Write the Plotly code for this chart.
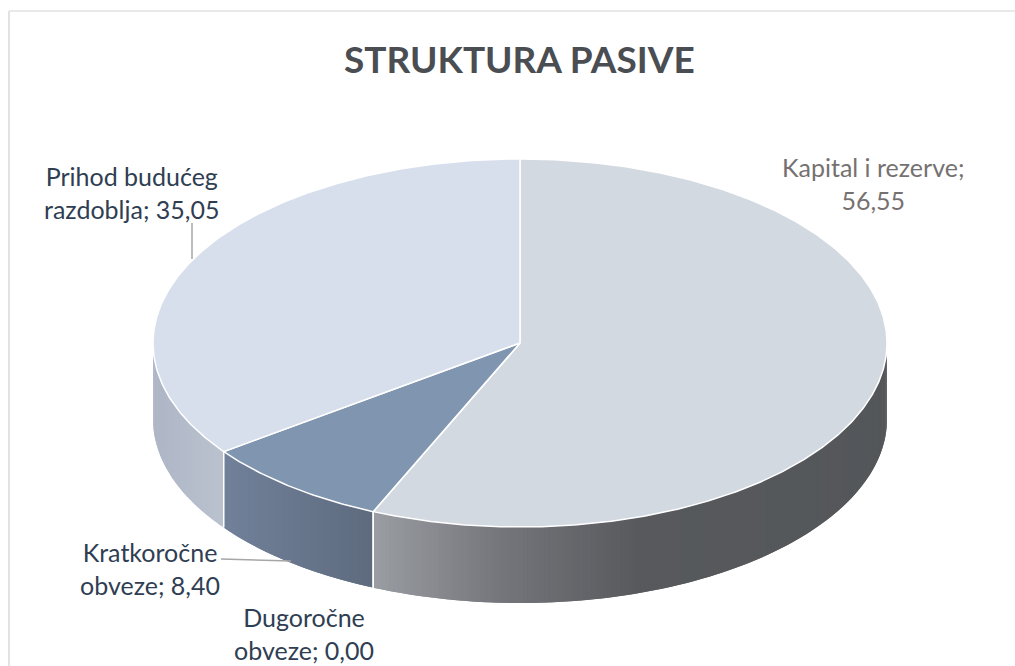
import math
import plotly.graph_objects as go

# --- data ---
categories = ["Kapital i rezerve", "Dugoročne obveze", "Kratkoročne obveze", "Prihod budućeg razdoblja"]
values = [56.55, 0.00, 8.40, 35.05]
value_labels = ["56,55", "0,00", "8,40", "35,05"]
title_text = "STRUKTURA PASIVE"

# --- style ---
top_colors = ["#D3D9E1", "#5B7FA8", "#8095AF", "#D8DFEC"]
# gradient stops per slice for the wall: (screen x, colour)
wall_stops = [
    [(373, "#9B9DA4"), (500, "#74767B"), (640, "#57595C"), (888, "#54575A")],
    [(373, "#5E6B7E"), (373, "#5E6B7E")],
    [(224, "#71819A"), (373, "#5E6B7E")],
    [(153, "#AEB6C6"), (224, "#BAC2CF")],
]
label_color = "#2F3E52"
CX, CY, RX, RY, DEPTH = 520, 343, 367, 184, 76
FONT = "Lato"


def pt(t_deg, dy=0):
    t = math.radians(t_deg)
    return CX + RX * math.sin(t), CY - RY * math.cos(t) + dy


def hex2rgb(c):
    return tuple(int(c[i:i + 2], 16) for i in (1, 3, 5))


def grad(stops, x):
    if x <= stops[0][0]:
        return stops[0][1]
    for (x0, c0), (x1, c1) in zip(stops, stops[1:]):
        if x <= x1 and x1 > x0:
            f = (x - x0) / (x1 - x0)
            a, b = hex2rgb(c0), hex2rgb(c1)
            return "rgb(%d,%d,%d)" % tuple(round(p + (q - p) * f) for p, q in zip(a, b))
    return stops[-1][1]


total = sum(values)
angles = [0]
for v in values:
    angles.append(angles[-1] + v / total * 360)

fig = go.Figure()


def poly(xs, ys, fill, line=None, width=0):
    fig.add_trace(go.Scatter(
        x=xs, y=ys, mode="lines", fill="toself", fillcolor=fill,
        line=dict(color=line or fill, width=width), hoverinfo="skip", showlegend=False))


# side walls (front half only, t in 90..270). Each strip reaches to the end of its
# slice and the next strip paints over it, so no seams show between strips.
for i, v in enumerate(values):
    a0, a1 = max(angles[i], 90), min(angles[i + 1], 270)
    if a1 <= a0:
        continue
    n = max(2, int((a1 - a0) * 1.5))
    for k in range(n):
        s0 = a0 + (a1 - a0) * k / n
        s1 = a0 + (a1 - a0) * (k + 1) / n
        s2 = min(a1, s1 + (a1 - a0) / n)
        mid = pt((s0 + s1) / 2)[0]
        top = [pt(s0), pt(s1), pt(s2)]
        bot = [pt(s2, DEPTH), pt(s1, DEPTH), pt(s0, DEPTH)]
        ring = top + bot + [top[0]]
        poly([p[0] for p in ring], [p[1] for p in ring], grad(wall_stops[i], mid))

# wall separators
for a in angles[1:-1]:
    if 90 < a < 270:
        x0, y0 = pt(a)
        x1, y1 = pt(a, DEPTH)
        fig.add_trace(go.Scatter(x=[x0, x1], y=[y0, y1], mode="lines", line=dict(color="white", width=1.5),
                                 hoverinfo="skip", showlegend=False))

# top faces
for i, v in enumerate(values):
    a0, a1 = angles[i], angles[i + 1]
    n = max(2, int((a1 - a0) * 2))
    arc = [pt(a0 + (a1 - a0) * k / n) for k in range(n + 1)]
    xs = [CX] + [p[0] for p in arc] + [CX]
    ys = [CY] + [p[1] for p in arc] + [CY]
    poly(xs, ys, top_colors[i], line="white", width=1.5)

# leader lines and frame
shapes = [
    dict(type="line", x0=192, y0=223, x1=192, y1=259, line=dict(color="#A6A6A6", width=1.5)),
    dict(type="line", x0=221, y0=559, x1=291, y1=561, line=dict(color="#A6A6A6", width=1.5)),
    dict(type="line", x0=9, y0=11, x1=9, y1=666, line=dict(color="#E2E2E2", width=2)),
    dict(type="line", x0=9, y0=11, x1=1015, y1=11, line=dict(color="#E2E2E2", width=1.5)),
]


def ann(x, y, text, color=label_color, size=25):
    return dict(x=x, y=y, text=text, showarrow=False, xanchor="center", yanchor="middle", align="center",
                font=dict(family=FONT, size=size, color=color))


annotations = [
    ann(519, 58, "<b>%s</b>" % title_text, color="#4A4D52", size=37),
    ann(873, 183, "Kapital i rezerve;<br>" + value_labels[0], color="#767171"),
    ann(131.5, 192, "Prihod budućeg<br>razdoblja; " + value_labels[3]),
    ann(150, 568, "Kratkoročne<br>obveze; " + value_labels[2]),
    ann(304, 633, "Dugoročne<br>obveze; " + value_labels[1]),
]

fig.update_layout(
    width=1015, height=666, margin=dict(l=0, r=0, t=0, b=0),
    paper_bgcolor="white", plot_bgcolor="white", showlegend=False,
    xaxis=dict(range=[0, 1015], visible=False, fixedrange=True),
    yaxis=dict(range=[666, 0], visible=False, fixedrange=True),
    shapes=shapes, annotations=annotations,
)
fig.write_html("out.html", config=dict(displayModeBar=False),
               post_script="document.body.style.margin='0';document.body.style.overflow='hidden';")
